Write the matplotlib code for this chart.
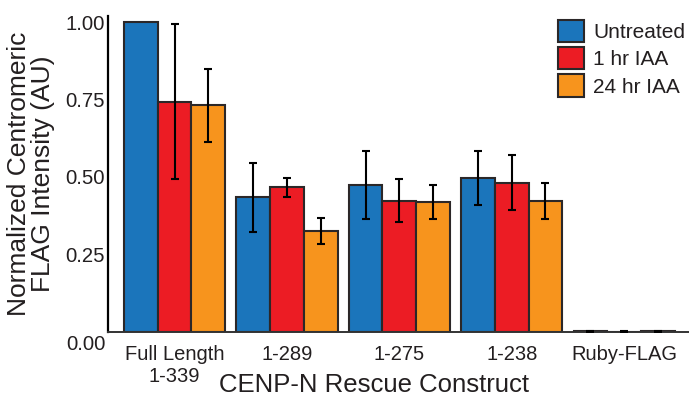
import matplotlib
matplotlib.use("Agg")
import matplotlib.pyplot as plt
import matplotlib.transforms as mtransforms
import numpy as np

plt.rcParams["font.family"] = ["Liberation Sans", "DejaVu Sans"]

constructs = ["Full Length\n1-339", "1-289", "1-275", "1-238", "Ruby-FLAG"]
treatments = ["Untreated", "1 hr IAA", "24 hr IAA"]

untreated = [1.00, 0.434, 0.474, 0.497, 0.002]
iaa_1hr = [0.743, 0.467, 0.424, 0.482, 0.001]
iaa_24hr = [0.731, 0.325, 0.419, 0.424, 0.002]

# full length untreated is the normalisation reference -> no error bar
untreated_err = [np.nan, 0.112, 0.111, 0.088, 0.002]
iaa_1hr_err = [0.249, 0.030, 0.068, 0.089, 0.002]
iaa_24hr_err = [0.117, 0.042, 0.056, 0.058, 0.002]

colors = ["#1B75BB", "#EC1C24", "#F7941D"]
edge = "#2B2728"

fig = plt.figure(figsize=(6.89, 4.03), dpi=100)
ax = fig.add_axes([108 / 689, 1 - 332 / 403, 1 - 108 / 689, (332 - 15.8) / 403])

x = np.arange(len(constructs))
width = 0.30
series = [(untreated, untreated_err), (iaa_1hr, iaa_1hr_err), (iaa_24hr, iaa_24hr_err)]
for i, (vals, errs) in enumerate(series):
    pos = x + (i - 1) * width
    ax.bar(pos, vals, width, color=colors[i], edgecolor=edge, linewidth=1.5,
           label=treatments[i], zorder=2)
    ok = ~np.isnan(errs)
    ax.errorbar(pos[ok], np.array(vals)[ok], yerr=np.array(errs)[ok], fmt="none",
                ecolor="black", elinewidth=1.5, capsize=2.8, capthick=1.5, zorder=3)

ax.set_xlim(-0.592, 4.577)
ax.set_ylim(0, 1.02)
ax.set_yticks([0, 0.25, 0.5, 0.75, 1.0])
ax.set_yticklabels(["0.00", "0.25", "0.50", "0.75", "1.00"])
ax.set_xticks(x)
ax.set_xticklabels(constructs)
ax.tick_params(axis="y", length=0, pad=2, labelsize=14.6, labelcolor="#231F20")
ax.tick_params(axis="x", length=0, pad=9, labelsize=14.5, labelcolor="#231F20")

# the 0.00 label sits a little below the axis line in the original
zero_lbl = ax.get_yticklabels()[0]
offset = mtransforms.ScaledTranslation(0, -10 / 100, fig.dpi_scale_trans)
zero_lbl.set_transform(zero_lbl.get_transform() + offset)

for s in ["top", "right"]:
    ax.spines[s].set_visible(False)
ax.spines["left"].set_linewidth(1.6)
ax.spines["left"].set_color("black")
ax.spines["bottom"].set_linewidth(1.4)
ax.spines["bottom"].set_color("#333333")

ax.set_ylabel("Normalized Centromeric\nFLAG Intensity (AU)", fontsize=19,
              color="#231F20", linespacing=1.0)
ax.yaxis.set_label_coords(-0.091, 0.5)
ax.set_xlabel("CENP-N Rescue Construct", fontsize=18.5, color="#231F20")
ax.xaxis.set_label_coords(0.458, -0.13)

leg = ax.legend(loc="upper left", bbox_to_anchor=(558 / 689, 1 - 20 / 403),
                bbox_transform=fig.transFigure, frameon=False, fontsize=15,
                handlelength=1.25, handleheight=1.25, handletextpad=0.43,
                labelspacing=0.25, borderpad=0, borderaxespad=0)
for t in leg.get_texts():
    t.set_color("#231F20")

fig.savefig("out.png", dpi=100)
